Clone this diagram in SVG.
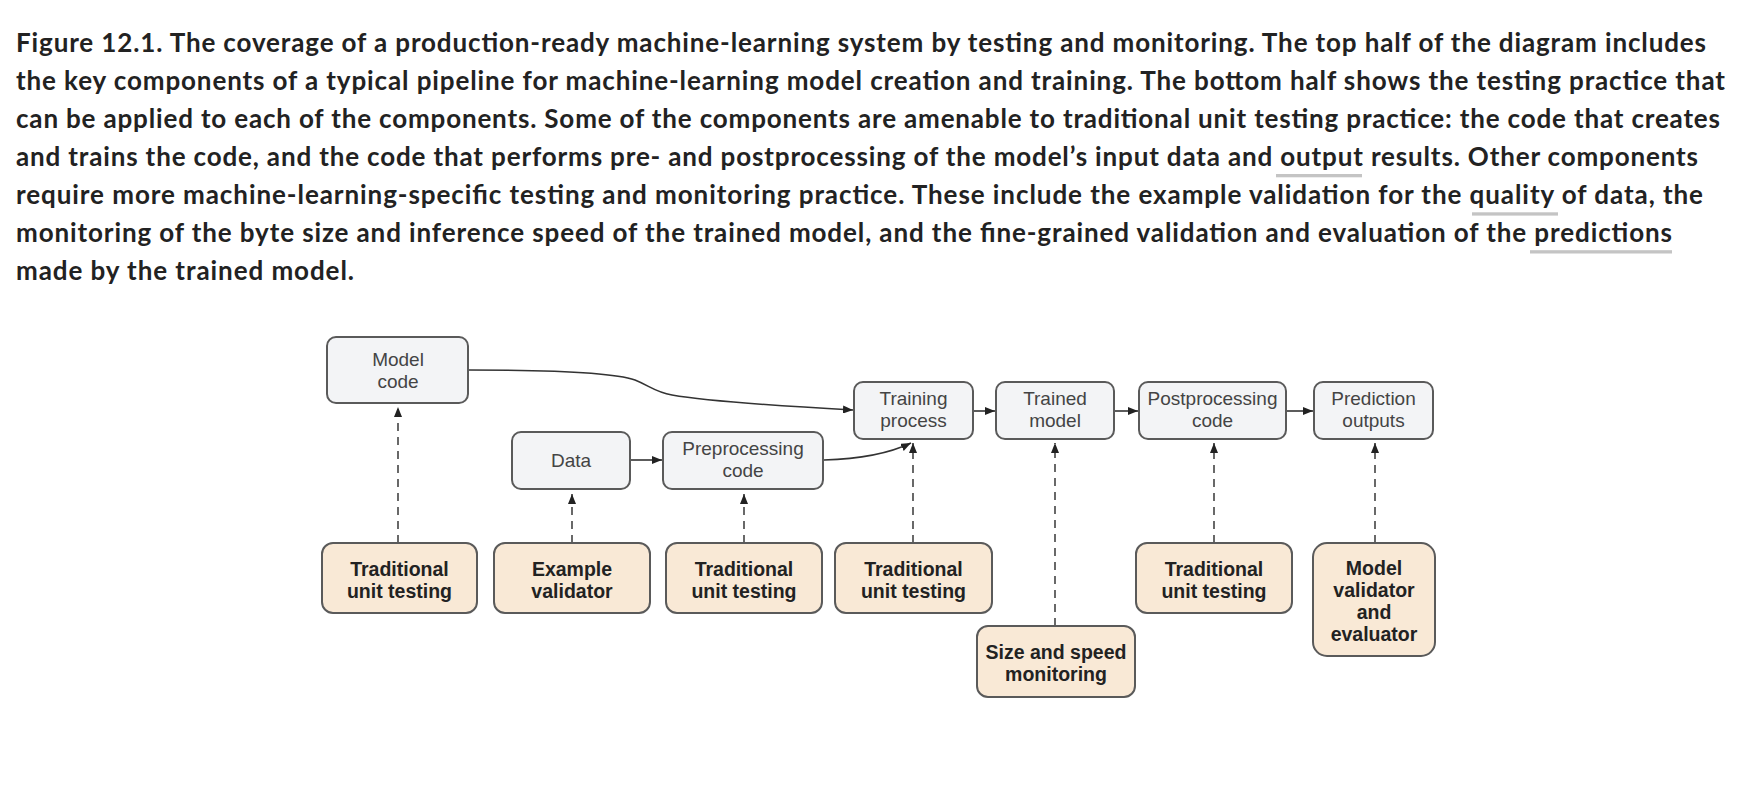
<svg xmlns="http://www.w3.org/2000/svg" width="1762" height="788" viewBox="0 0 1762 788">
<defs>
<style>
.cap{font-family:Lato,"Liberation Sans",sans-serif;font-weight:700;font-size:26px;fill:#222}
.ul{fill:#c4c4c4}
.top rect{fill:#f3f4f6;stroke:#5a5a5a;stroke-width:2}
.bot rect{fill:#f9e9d6;stroke:#5a5a5a;stroke-width:2}
.top text{font-family:"Liberation Sans",Arial,sans-serif;font-size:19px;fill:#444;text-anchor:middle}
.bot text{font-family:"Liberation Sans",Arial,sans-serif;font-size:19.5px;font-weight:700;fill:#222;text-anchor:middle}
.solid{fill:none;stroke:#333;stroke-width:1.6;marker-end:url(#ah)}
.dash{fill:none;stroke:#444;stroke-width:1.6;stroke-dasharray:8 6;marker-end:url(#ah)}
</style>
<marker id="ah" markerUnits="userSpaceOnUse" markerWidth="11" markerHeight="8" refX="10" refY="4" orient="auto">
<path d="M0,0 L10,4 L0,8 z" fill="#222"/>
</marker>
</defs>
<rect width="1762" height="788" fill="#fff"/>
<g id="caption">
<text class="cap" x="16" y="51.5" textLength="1690" lengthAdjust="spacing">Figure 12.1. The coverage of a production-ready machine-learning system by testing and monitoring. The top half of the diagram includes</text>
<text class="cap" x="16" y="89.5" textLength="1709" lengthAdjust="spacing">the key components of a typical pipeline for machine-learning model creation and training. The bottom half shows the testing practice that</text>
<text class="cap" x="16" y="127.5" textLength="1704" lengthAdjust="spacing">can be applied to each of the components. Some of the components are amenable to traditional unit testing practice: the code that creates</text>
<text class="cap" x="16" y="165.5" textLength="1682" lengthAdjust="spacing">and trains the code, and the code that performs pre- and postprocessing of the model’s input data and output results. Other components</text>
<text class="cap" x="16" y="203.5" textLength="1687" lengthAdjust="spacing">require more machine-learning-specific testing and monitoring practice. These include the example validation for the quality of data, the</text>
<text class="cap" x="16" y="241.5" textLength="1656" lengthAdjust="spacing">monitoring of the byte size and inference speed of the trained model, and the fine-grained validation and evaluation of the predictions</text>
<text class="cap" x="16" y="279.5" textLength="338" lengthAdjust="spacing">made by the trained model.</text>
<rect class="ul" x="1276" y="174" width="86" height="3.3"/>
<rect class="ul" x="1472" y="212.3" width="86" height="3.3"/>
<rect class="ul" x="1530" y="250.2" width="142" height="3.3"/>
</g>
<g id="connectors">
<path class="solid" d="M468,370 C560,370 615,373 635,380 C650,386 655,392 672,395 C700,400 780,406 853,410"/>
<path class="solid" d="M630,460 L662,460"/>
<path class="solid" d="M824,460 C860,459 890,453 911,443"/>
<path class="solid" d="M973,411 L995,411"/>
<path class="solid" d="M1114,411 L1138,411"/>
<path class="solid" d="M1286,411 L1313,411"/>
<path class="dash" d="M398,543 L398,407"/>
<path class="dash" d="M572,543 L572,494"/>
<path class="dash" d="M744,543 L744,494"/>
<path class="dash" d="M913,543 L913,443"/>
<path class="dash" d="M1055,626 L1055,443"/>
<path class="dash" d="M1214,543 L1214,443"/>
<path class="dash" d="M1375,543 L1375,443"/>
</g>
<g id="model-code" class="top"><rect x="327" y="337" width="141" height="66" rx="9"/><text x="398" y="366">Model</text><text x="398" y="388">code</text></g>
<g id="data" class="top"><rect x="512" y="432" width="118" height="57" rx="9"/><text x="571" y="467">Data</text></g>
<g id="preprocessing-code" class="top"><rect x="663" y="432" width="160" height="57" rx="9"/><text x="743" y="455">Preprocessing</text><text x="743" y="477">code</text></g>
<g id="training-process" class="top"><rect x="854" y="382" width="119" height="57" rx="9"/><text x="913.5" y="405">Training</text><text x="913.5" y="427">process</text></g>
<g id="trained-model" class="top"><rect x="996" y="382" width="118" height="57" rx="9"/><text x="1055" y="405">Trained</text><text x="1055" y="427">model</text></g>
<g id="postprocessing-code" class="top"><rect x="1139" y="382" width="147" height="57" rx="9"/><text x="1212.5" y="405">Postprocessing</text><text x="1212.5" y="427">code</text></g>
<g id="prediction-outputs" class="top"><rect x="1314" y="382" width="119" height="57" rx="9"/><text x="1373.5" y="405">Prediction</text><text x="1373.5" y="427">outputs</text></g>
<g id="test-model-code" class="bot"><rect x="322" y="543" width="155" height="70" rx="11"/><text x="399.5" y="576">Traditional</text><text x="399.5" y="598">unit testing</text></g>
<g id="example-validator" class="bot"><rect x="494" y="543" width="156" height="70" rx="11"/><text x="572" y="576">Example</text><text x="572" y="598">validator</text></g>
<g id="test-preprocessing" class="bot"><rect x="666" y="543" width="156" height="70" rx="11"/><text x="744" y="576">Traditional</text><text x="744" y="598">unit testing</text></g>
<g id="test-training" class="bot"><rect x="835" y="543" width="157" height="70" rx="11"/><text x="913.5" y="576">Traditional</text><text x="913.5" y="598">unit testing</text></g>
<g id="size-speed" class="bot"><rect x="977" y="626" width="158" height="71" rx="11"/><text x="1056" y="659">Size and speed</text><text x="1056" y="681">monitoring</text></g>
<g id="test-postprocessing" class="bot"><rect x="1136" y="543" width="156" height="70" rx="11"/><text x="1214" y="576">Traditional</text><text x="1214" y="598">unit testing</text></g>
<g id="model-validator" class="bot"><rect x="1313" y="543" width="122" height="113" rx="14"/><text x="1374" y="575">Model</text><text x="1374" y="597">validator</text><text x="1374" y="619">and</text><text x="1374" y="641">evaluator</text></g>
</svg>
